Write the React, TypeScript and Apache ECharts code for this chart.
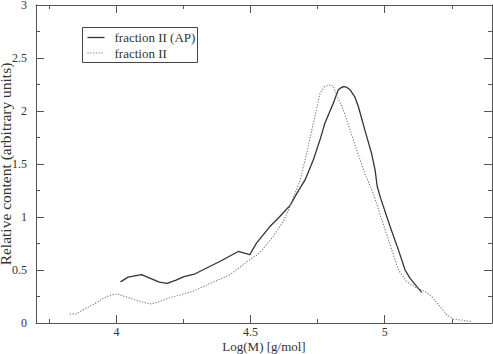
import React, { useEffect, useRef } from "react";
import * as echarts from "echarts";

// fraction II (AP) — solid line
const apLogM = [
  4.015, 4.043, 4.093, 4.124, 4.160, 4.189, 4.222, 4.252, 4.290, 4.323, 4.385, 4.454,
  4.497, 4.522, 4.572, 4.609, 4.647, 4.672, 4.703, 4.734, 4.759, 4.777, 4.808, 4.827,
  4.836, 4.846, 4.858, 4.871, 4.889, 4.902, 4.926, 4.951, 4.964, 4.972, 4.983, 4.995,
  5.020, 5.051, 5.076, 5.094, 5.119, 5.138,
];
const apValues = [
  0.388, 0.433, 0.456, 0.424, 0.386, 0.373, 0.405, 0.438, 0.460, 0.502, 0.580, 0.675,
  0.644, 0.754, 0.910, 1.005, 1.110, 1.220, 1.350, 1.540, 1.730, 1.885, 2.070, 2.200,
  2.218, 2.230, 2.225, 2.200, 2.130, 2.040, 1.820, 1.600, 1.445, 1.290, 1.190, 1.100,
  0.910, 0.690, 0.500, 0.424, 0.345, 0.289,
];

// fraction II — dotted line
const frLogM = [
  3.826, 3.851, 3.876, 3.913, 3.950, 3.981, 4.006, 4.031, 4.068, 4.100, 4.131, 4.162,
  4.200, 4.240, 4.286, 4.360, 4.423, 4.485, 4.535, 4.584, 4.622, 4.647, 4.665, 4.684,
  4.709, 4.734, 4.759, 4.776, 4.793, 4.808, 4.821, 4.846, 4.871, 4.896, 4.926, 4.958,
  4.982, 5.020, 5.051, 5.082, 5.119, 5.150, 5.175, 5.206, 5.231, 5.256, 5.293, 5.325,
];
const frValues = [
  0.085, 0.088, 0.126, 0.173, 0.230, 0.267, 0.273, 0.250, 0.220, 0.195, 0.179, 0.204,
  0.242, 0.265, 0.300, 0.385, 0.455, 0.575, 0.665, 0.816, 0.958, 1.100, 1.220, 1.340,
  1.600, 1.885, 2.170, 2.230, 2.246, 2.237, 2.150, 2.010, 1.820, 1.630, 1.410, 1.220,
  1.030, 0.740, 0.500, 0.390, 0.330, 0.298, 0.250, 0.157, 0.078, 0.038, 0.025, 0.012,
];

const xMajor = [4, 4.5, 5];
const xMinor = [3.75, 4.25, 4.75, 5.25];
const seriesNames = ["fraction II (AP)", "fraction II"];
const xTitle = "Log(M) [g/mol]";
const yTitle = "Relative content (arbitrary units)";

const FONT = "Liberation Serif";
const AXIS_COLOR = "#555";
const AP_COLOR = "#333";
const FR_COLOR = "#777";
const FR_DASH = [1.2, 1.6];

export default function App() {
  const ref = useRef<HTMLDivElement>(null);

  useEffect(() => {
    if (!ref.current) return;
    const chart = echarts.init(ref.current, undefined, { renderer: "svg" });
    const xBase = {
      type: "value" as const,
      min: 3.7,
      max: 5.4,
      splitLine: { show: false },
    };
    const option: any = {
      animation: false,
      backgroundColor: "#fff",
      grid: {
        left: 36,
        right: 1,
        top: 5,
        bottom: 31,
        containLabel: false,
        outerBoundsMode: "none",
      },
      graphic: [
        {
          type: "text",
          x: 5.5,
          y: 164,
          rotation: Math.PI / 2,
          style: {
            text: yTitle,
            fontFamily: FONT,
            fontSize: 15.5,
            fill: "#333",
            align: "center",
            verticalAlign: "middle",
          },
        },
        {
          type: "group",
          left: 82,
          top: 27,
          children: [
            {
              type: "rect",
              shape: { x: 0, y: 0, width: 115, height: 35 },
              style: { fill: "#fff", stroke: "#444", lineWidth: 1 },
            },
            {
              type: "line",
              shape: { x1: 5, y1: 10, x2: 22, y2: 10 },
              style: { stroke: AP_COLOR, lineWidth: 1.3 },
            },
            {
              type: "line",
              shape: { x1: 5, y1: 25.5, x2: 22, y2: 25.5 },
              style: { stroke: FR_COLOR, lineWidth: 1.1, lineDash: FR_DASH },
            },
            {
              type: "text",
              x: 32,
              y: 10,
              style: {
                text: seriesNames[0],
                fontFamily: FONT,
                fontSize: 13,
                fill: "#333",
                verticalAlign: "middle",
              },
            },
            {
              type: "text",
              x: 32,
              y: 25.5,
              style: {
                text: seriesNames[1],
                fontFamily: FONT,
                fontSize: 13,
                fill: "#333",
                verticalAlign: "middle",
              },
            },
          ],
        },
      ],
      xAxis: [
        {
          ...xBase,
          position: "bottom",
          name: xTitle,
          nameLocation: "middle",
          nameGap: 17,
          nameMoveOverlap: false,
          nameTextStyle: { fontFamily: FONT, fontSize: 13, color: "#333" },
          axisLine: { show: true, lineStyle: { color: AXIS_COLOR, width: 1 } },
          axisTick: {
            show: true,
            inside: true,
            length: 8,
            customValues: xMajor,
            lineStyle: { color: AXIS_COLOR },
          },
          axisLabel: {
            show: true,
            customValues: xMajor,
            margin: 3,
            fontFamily: FONT,
            fontSize: 12,
            color: "#333",
          },
        },
        {
          ...xBase,
          position: "bottom",
          axisLine: { show: false },
          axisTick: {
            show: true,
            inside: true,
            length: 4,
            customValues: xMinor,
            lineStyle: { color: AXIS_COLOR },
          },
          axisLabel: { show: false },
        },
        {
          ...xBase,
          position: "top",
          axisLine: { show: true, lineStyle: { color: AXIS_COLOR, width: 1 } },
          axisTick: {
            show: true,
            inside: true,
            length: 8,
            customValues: xMajor,
            lineStyle: { color: AXIS_COLOR },
          },
          axisLabel: { show: false },
        },
        {
          ...xBase,
          position: "top",
          axisLine: { show: false },
          axisTick: {
            show: true,
            inside: true,
            length: 4,
            customValues: xMinor,
            lineStyle: { color: AXIS_COLOR },
          },
          axisLabel: { show: false },
        },
      ],
      yAxis: [
        {
          type: "value",
          position: "left",
          min: 0,
          max: 3,
          interval: 0.5,
          splitLine: { show: false },
          axisLine: { show: true, lineStyle: { color: AXIS_COLOR, width: 1 } },
          axisTick: { show: true, inside: true, length: 8, lineStyle: { color: AXIS_COLOR } },
          minorTick: { show: true, splitNumber: 2, length: 4, lineStyle: { color: AXIS_COLOR } },
          axisLabel: {
            margin: 9,
            fontFamily: FONT,
            fontSize: 12,
            color: "#333",
          },
        },
        {
          type: "value",
          position: "right",
          min: 0,
          max: 3,
          interval: 0.5,
          splitLine: { show: false },
          axisLine: { show: true, lineStyle: { color: AXIS_COLOR, width: 1 } },
          axisTick: { show: true, inside: true, length: 8, lineStyle: { color: AXIS_COLOR } },
          minorTick: { show: true, splitNumber: 2, length: 4, lineStyle: { color: AXIS_COLOR } },
          axisLabel: { show: false },
        },
      ],
      series: [
        {
          name: seriesNames[0],
          type: "line",
          xAxisIndex: 0,
          yAxisIndex: 0,
          showSymbol: false,
          symbol: "none",
          data: apLogM.map((x, i) => [x, apValues[i]]),
          lineStyle: { color: AP_COLOR, width: 1.3, type: "solid" },
          itemStyle: { color: AP_COLOR },
        },
        {
          name: seriesNames[1],
          type: "line",
          xAxisIndex: 0,
          yAxisIndex: 0,
          showSymbol: false,
          symbol: "none",
          data: frLogM.map((x, i) => [x, frValues[i]]),
          lineStyle: { color: FR_COLOR, width: 1.1, type: FR_DASH },
          itemStyle: { color: FR_COLOR },
        },
      ],
    };
    chart.setOption(option);
    return () => chart.dispose();
  }, []);

  return (
    <div
      ref={ref}
      style={{ position: "fixed", left: 0, top: 0, width: 493, height: 354, background: "#fff" }}
    />
  );
}
